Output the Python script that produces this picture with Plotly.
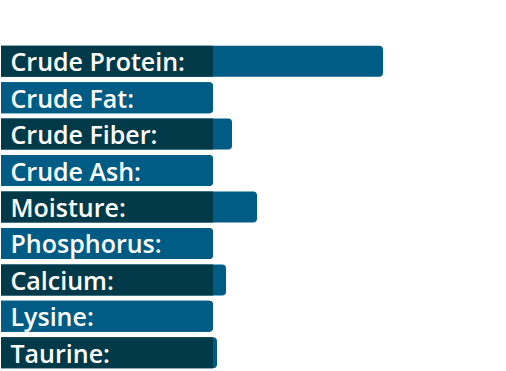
import plotly.graph_objects as go

categories = ["Crude Protein:", "Crude Fat:", "Crude Fiber:", "Crude Ash:", "Moisture:",
              "Phosphorus:", "Calcium:", "Lysine:", "Taurine:"]
values = [382, 212, 231, 212, 256, 212, 225, 212, 216]
label_width = [212] * len(categories)

BLUE = "#005c84"
DARK = "#033a49"
label_colors = [DARK if i % 2 == 0 else BLUE for i in range(len(categories))]

fig = go.Figure()
fig.add_trace(go.Bar(
    y=categories, x=values, orientation="h",
    marker=dict(color=BLUE, line=dict(width=0)),
    hoverinfo="skip", showlegend=False,
))
fig.add_trace(go.Bar(
    y=categories, x=label_width, orientation="h",
    marker=dict(color=label_colors, line=dict(width=0)),
    text=[" " + c for c in categories],
    textposition="inside", insidetextanchor="start",
    textfont=dict(family="Open Sans", size=25, color="white", weight=600),
    constraintext="none",
    hoverinfo="skip", showlegend=False,
))
fig.update_layout(
    width=506, height=371,
    margin=dict(l=1, r=0, t=43, b=0, autoexpand=False),
    barmode="overlay", bargap=0.15, barcornerradius=4,
    uniformtext=dict(minsize=25, mode="show"),
    paper_bgcolor="white", plot_bgcolor="white",
    xaxis=dict(range=[0, 505], visible=False),
    yaxis=dict(autorange="reversed", visible=False),
)
fig.write_html("out.html", config={"displayModeBar": False},
               post_script="document.body.style.margin='0';")
